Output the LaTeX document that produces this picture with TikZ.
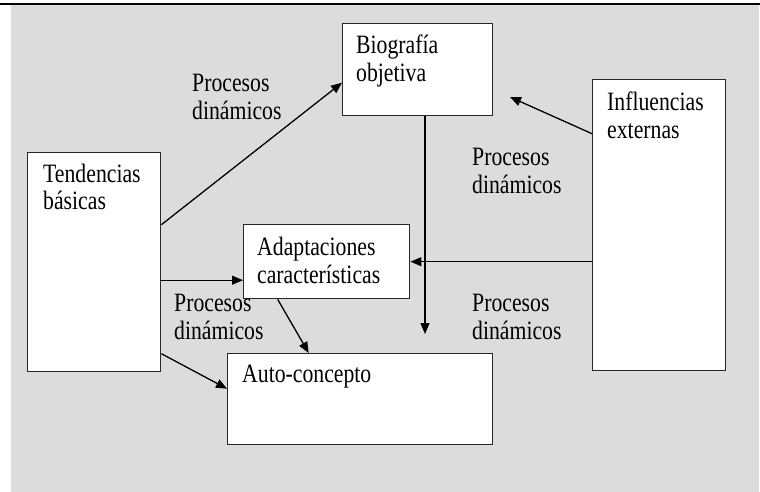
\documentclass[tikz,border=0pt]{standalone}
\usepackage{fontspec}
\setmainfont[FakeStretch=0.82]{Liberation Serif}
\usetikzlibrary{arrows.meta}
\definecolor{bggray}{RGB}{220,220,220}
\definecolor{boxline}{RGB}{40,40,40}
\newcommand{\twolines}[2]{\begin{tabular}[t]{@{}l@{}}#1\\#2\end{tabular}}
\begin{document}
\begin{tikzpicture}[x=1pt,y=-1pt,
  box/.style={draw=boxline, fill=white, line width=1.4pt, inner sep=0pt, anchor=north west},
  txt/.style={inner sep=0pt, anchor=base west, font=\fontsize{26.5}{28}\selectfont},
  arr/.style={line width=1.3pt, -{Triangle[length=11pt,width=9pt]}}]
\useasboundingbox (0,0) rectangle (760,492);
% background
\fill[bggray] (11,5) rectangle (759,492);
\draw[line width=1.6pt] (0,4) -- (760,4);
% boxes
\node[box, minimum width=133pt, minimum height=219pt] (tend) at (27,152) {};
\node[box, minimum width=150pt, minimum height=92pt] (bio) at (342,23) {};
\node[box, minimum width=133pt, minimum height=291pt] (infl) at (592,79) {};
\node[box, minimum width=166pt, minimum height=74pt] (adap) at (243,224) {};
\node[box, minimum width=265pt, minimum height=91pt] (auto) at (227,353) {};
% box texts
\node[txt] (tendt) at (43,182) {\twolines{Tendencias}{básicas}};
\node[txt] (biot) at (356,54) {\twolines{Biografía}{objetiva}};
\node[txt] (inflt) at (607,111) {\twolines{Influencias}{externas}};
\node[txt] (adapt) at (257,255) {\twolines{Adaptaciones}{características}};
\node[txt] (autot) at (242,382) {Auto-concepto};
% process labels
\node[txt] (l1) at (192,92) {\twolines{Procesos}{dinámicos}};
\node[txt] (l2) at (472,165) {\twolines{Procesos}{dinámicos}};
\node[txt] (l3) at (174,311) {\twolines{Procesos}{dinámicos}};
\node[txt] (l4) at (472,311) {\twolines{Procesos}{dinámicos}};
% free ends
\coordinate (bioend) at (425,334);
\coordinate (inflend) at (510,97);
% connectors
\draw[arr] ([yshift=37.5pt]tend.east) -- ([yshift=-13pt]bio.west);
\draw[arr] ([yshift=-18pt]tend.east) -- ([yshift=-18pt]tend.east -| adap.west);
\draw[arr] ([yshift=-91.5pt]tend.east) -- ([yshift=10.5pt]auto.west);
\draw[arr] ([xshift=-49pt]adap.south) -- ([xshift=-51.5pt]auto.north);
\draw[arr] (bio.south -| bioend) -- (bioend);
\draw[arr] ([yshift=-36.5pt]infl.west) -- ([yshift=-36.5pt]infl.west -| adap.east);
\draw[arr] ([yshift=91.5pt]infl.west) -- (inflend);
\end{tikzpicture}
\end{document}
